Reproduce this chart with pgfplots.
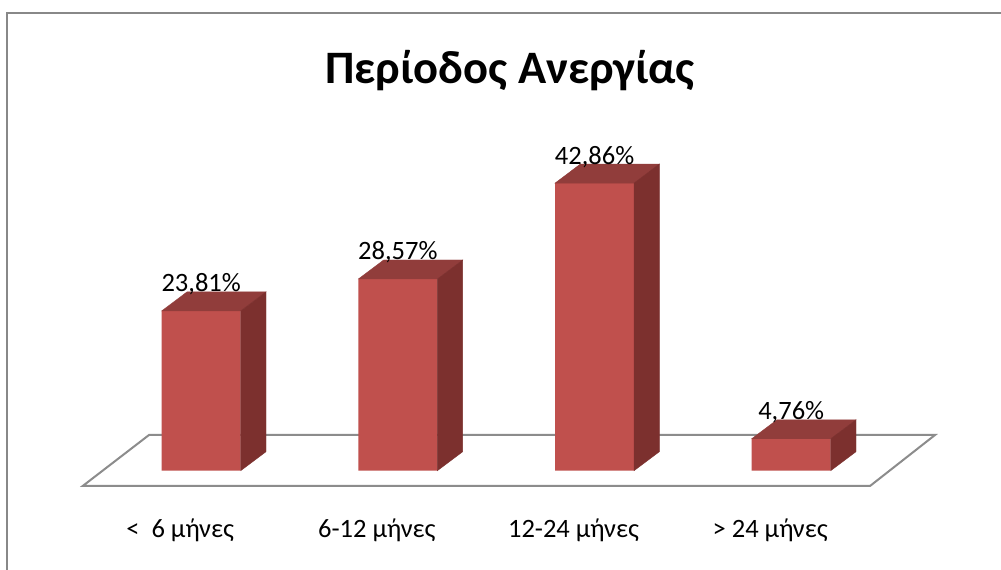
\documentclass[border=0pt]{standalone}
\usepackage{pgfplots}
\pgfplotsset{compat=1.18}
\usepackage{pgfplotstable}
\usepackage{fontspec}
\setmainfont{Carlito}
\definecolor{frontc}{HTML}{C0504D}
\definecolor{topc}{HTML}{913D3B}
\definecolor{sidec}{HTML}{7C302E}
\definecolor{floorc}{HTML}{8C8C8C}
\definecolor{framec}{HTML}{888888}
\pgfplotstableread{
x v
0 23.81
1 28.57
2 42.86
3 4.76
}\datatable
\begin{document}
\begin{tikzpicture}[x=1pt,y=1pt]
\useasboundingbox (0,0) rectangle (1001,570);
\fill[white] (0,0) rectangle (1001,570);
% frame (top and left visible)
\draw[framec, line width=2pt] (7.3,-5) -- (7.3,556.7) -- (1010,556.7);
% title
\node[font=\fontsize{46.5}{52}\selectfont\bfseries, anchor=base] at (510,486) {Περίοδος Ανεργίας};
% floor
\draw[floorc, line width=2pt, line join=miter] (82.7,84) -- (870,84) -- (935,135) -- (149,135) -- cycle;
\begin{axis}[
  at={(4.53pt,99.3pt)}, anchor=south west,
  scale only axis, x=196.67pt, y=6.71pt,
  xmin=-1, xmax=4, ymin=0, ymax=50,
  clip=false,
  axis line style={draw=none},
  major tick length=0pt,
  ytick=\empty,
  xtick={-0.107,0.893,1.893,2.893},
  xticklabels={{<\ \ 6 μήνες},{6-12 μήνες},{12-24 μήνες},{> 24 μήνες}},
  xticklabel style={anchor=base, yshift=-66.3pt, font=\fontsize{26.5}{30}\selectfont, inner sep=0pt},
]
\addplot[scatter, only marks, mark=text, text mark={},
  visualization depends on={rawy \as \rawy},
  scatter/@pre marker code/.code={%
    \fill[topc] (-39.5pt,0pt) -- (-14.2pt,19pt) -- (64.8pt,19pt) -- (39.5pt,0pt) -- cycle;
    \fill[sidec] (39.5pt,0pt) -- (64.8pt,19pt) -- (64.8pt,{19pt-6.71pt*\rawy}) -- (39.5pt,{-6.71pt*\rawy}) -- cycle;
  },
  scatter/@post marker code/.code={},
] table[x=x,y=v]{\datatable};
\addplot[ybar, bar width=79pt, bar shift=0pt, fill=frontc, draw=none,
  point meta=y,
  nodes near coords={\pgfmathprintnumber[use comma,fixed,fixed zerofill,precision=2,assume math mode=true]{\pgfplotspointmeta}\%},
  every node near coord/.append style={anchor=base, yshift=19pt, inner sep=0pt, font=\fontsize{26.5}{30}\selectfont, text=black},
] table[x=x,y=v]{\datatable};
\end{axis}
\end{tikzpicture}
\end{document}
